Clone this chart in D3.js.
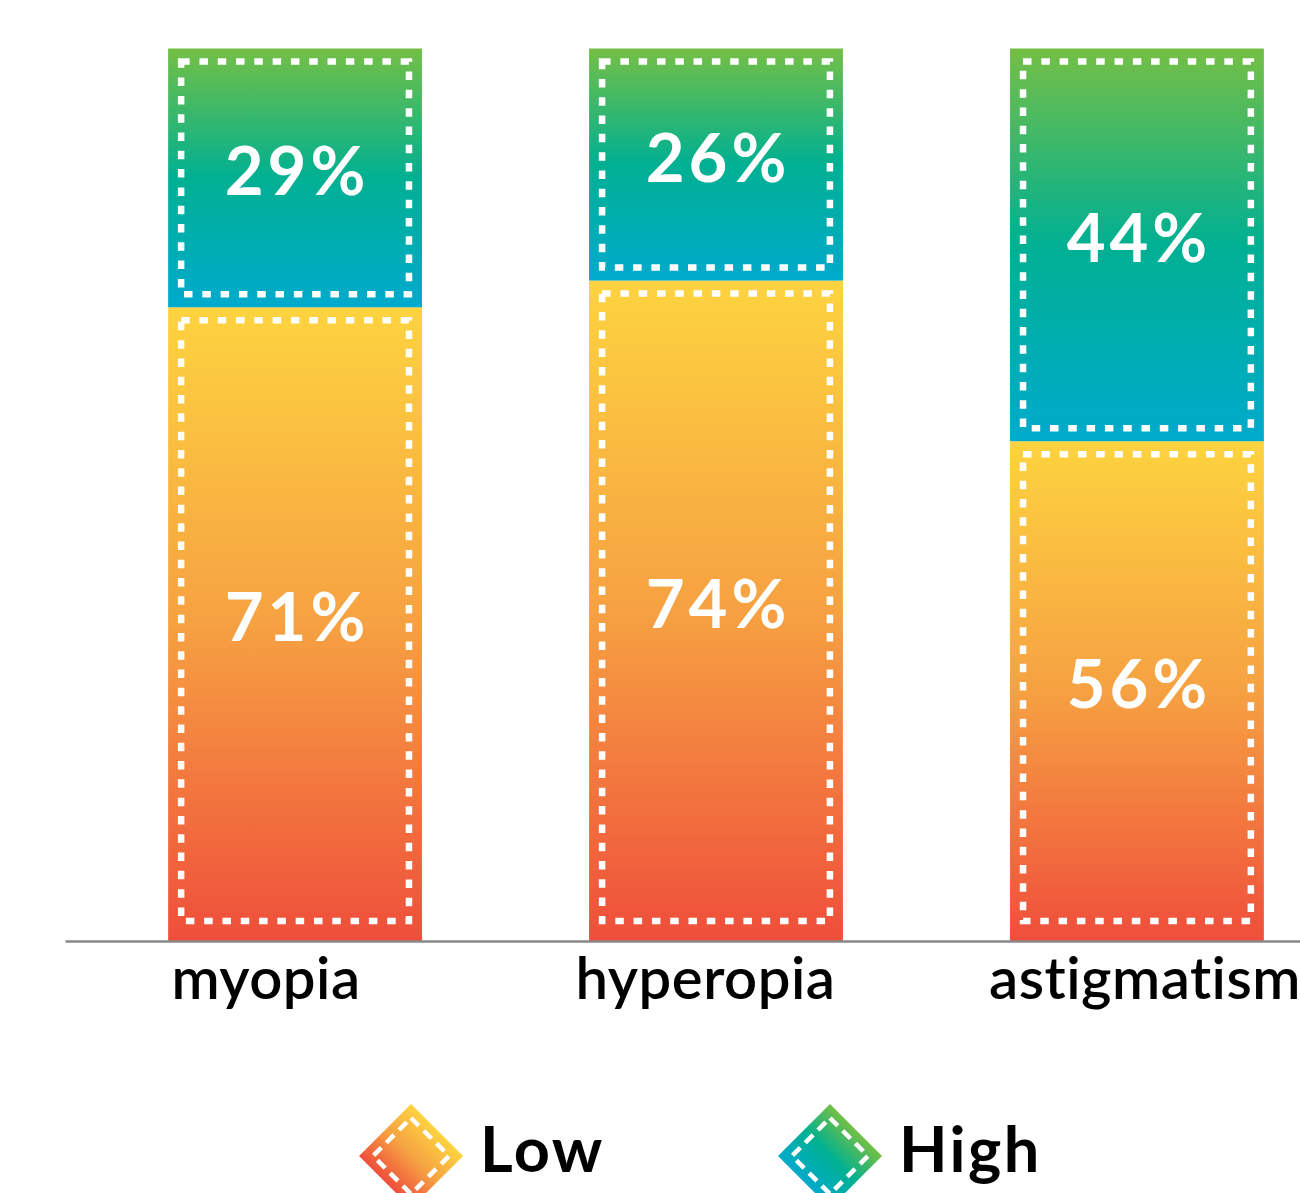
<!DOCTYPE html>
<html>
<head>
<meta charset="utf-8">
<script src="https://cdn.jsdelivr.net/npm/d3@7"></script>
<style>
  html, body { margin: 0; background: #ffffff; }
  svg { display: block; }
</style>
</head>
<body>
<svg id="chart" width="1300" height="1193"></svg>
<script>
// Share of each refractive error by level
const categories = ["myopia", "hyperopia", "astigmatism"];
const lowValues  = [71, 74, 56];
const highValues = [29, 26, 44];
const seriesNames = ["Low", "High"];

const width = 1300, height = 1193;
const svg = d3.select("#chart");

// gradient colour stops (top → bottom)
const gradientStops = {
  Low:  ["#fdd33f", "#f6a142", "#ef4e3b"],
  High: ["#74bf45", "#00b092", "#00aacd"]
};

const rows = categories.map((c, i) => ({ category: c, Low: lowValues[i], High: highValues[i] }));
const stacked = d3.stack().keys(seriesNames)(rows);

const x = d3.scaleBand()
  .domain(categories)
  .range([65, 1367])
  .paddingInner(0.397)
  .paddingOuter(0.245);

const y = d3.scaleLinear().domain([0, 100]).range([941, 48.5]);

// category labels sit on their own evenly spaced positions
const labelX = d3.scalePoint().domain(categories).range([266, 1145]);

const defs = svg.append("defs");
seriesNames.forEach(name => {
  const g = defs.append("linearGradient")
    .attr("id", "bar-" + name)
    .attr("x1", 0).attr("y1", 0).attr("x2", 0).attr("y2", 1);
  gradientStops[name].forEach((col, i, arr) => {
    g.append("stop").attr("offset", (i / (arr.length - 1) * 100) + "%").attr("stop-color", col);
  });
  // diagonal version for the legend swatch (bottom-left → top-right)
  const d = defs.append("linearGradient")
    .attr("id", "key-" + name)
    .attr("x1", 0).attr("y1", 1).attr("x2", 1).attr("y2", 0);
  const rev = gradientStops[name].slice().reverse();
  rev.forEach((col, i, arr) => {
    d.append("stop").attr("offset", (25 + i / (arr.length - 1) * 50) + "%").attr("stop-color", col);
  });
});

// stacked segments
const layers = svg.append("g").selectAll("g")
  .data(stacked)
  .join("g")
  .attr("fill", d => `url(#bar-${d.key})`);

layers.selectAll("rect.seg")
  .data(d => d.map(p => ({ key: d.key, p })))
  .join("rect")
  .attr("class", "seg")
  .attr("x", d => x(d.p.data.category))
  .attr("width", x.bandwidth())
  .attr("y", d => y(d.p[1]))
  .attr("height", d => y(d.p[0]) - y(d.p[1]));

// dotted white frame inside each segment
const inset = 13;
layers.selectAll("rect.frame")
  .data(d => d.map(p => ({ key: d.key, p })))
  .join("rect")
  .attr("class", "frame")
  .attr("x", d => x(d.p.data.category) + inset)
  .attr("width", x.bandwidth() - 2 * inset)
  .attr("y", d => y(d.p[1]) + inset)
  .attr("height", d => y(d.p[0]) - y(d.p[1]) - inset - (d.key === "Low" ? 20 : inset))
  .attr("fill", "none")
  .attr("stroke", "#ffffff")
  .attr("stroke-width", 6.5)
  .attr("stroke-dasharray", "8.5 9.8");

// value labels
layers.selectAll("text")
  .data(d => d.map(p => ({ key: d.key, p })))
  .join("text")
  .attr("x", d => x(d.p.data.category) + x.bandwidth() / 2 + 2)
  .attr("y", d => (y(d.p[0]) + y(d.p[1])) / 2 - 7)
  .attr("dy", "0.36em")
  .attr("text-anchor", "middle")
  .attr("fill", "#ffffff")
  .style("font-family", "Lato, 'Open Sans', sans-serif")
  .style("font-weight", 700)
  .style("font-size", "67px")
  .style("letter-spacing", "4px")
  .text(d => d.p.data[d.key] + "%");

// baseline axis
const axis = svg.append("g")
  .attr("transform", `translate(0,${y(0)})`)
  .call(d3.axisBottom(x).tickSize(0).tickSizeOuter(0).tickFormat(""));
axis.select(".domain").attr("stroke", "#888888").attr("stroke-width", 2.5);

svg.append("g").selectAll("text")
  .data(categories)
  .join("text")
  .attr("x", d => labelX(d))
  .attr("y", 999)
  .attr("text-anchor", "middle")
  .attr("fill", "#000000")
  .style("font-family", "Lato, 'Open Sans', sans-serif")
  .style("font-weight", 600)
  .style("font-size", "58px")
  .style("letter-spacing", "0.5px")
  .text(d => d);

// legend
const r = 52, rIn = 38;
const diamond = (cx, cy, rr) => `M${cx},${cy - rr}L${cx + rr},${cy}L${cx},${cy + rr}L${cx - rr},${cy}Z`;
const legend = svg.append("g").selectAll("g")
  .data(seriesNames)
  .join("g")
  .attr("transform", (d, i) => `translate(${x(categories[i]) + x.bandwidth() / 2 + 116 - 2 * i},1156)`);

legend.append("path")
  .attr("d", diamond(0, 0, r))
  .attr("fill", d => `url(#key-${d})`);
legend.append("path")
  .attr("d", diamond(0, 0, rIn))
  .attr("fill", "none")
  .attr("stroke", "#ffffff")
  .attr("stroke-width", 4.5)
  .attr("stroke-dasharray", "11 7");
legend.append("text")
  .attr("x", 69)
  .attr("y", 16)
  .attr("fill", "#000000")
  .style("font-family", "Lato, 'Open Sans', sans-serif")
  .style("font-weight", 700)
  .style("font-size", "63px")
  .style("letter-spacing", "2.5px")
  .text(d => d);
</script>
</body>
</html>
